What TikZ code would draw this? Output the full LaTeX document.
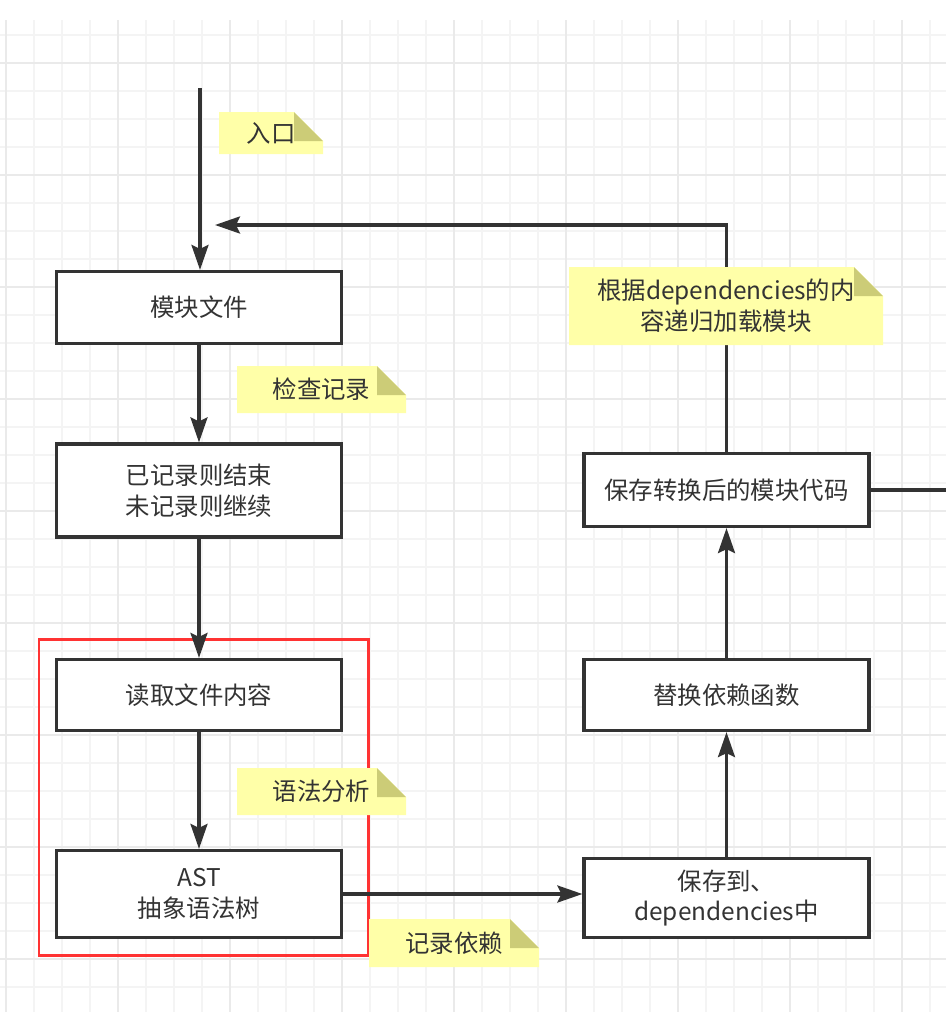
\documentclass[tikz,border=0pt]{standalone}
\usepackage{fontspec}
\setmainfont{Noto Sans CJK SC}
\usetikzlibrary{arrows.meta}

\definecolor{linegray}{HTML}{333333}
\definecolor{textgray}{HTML}{333333}
\definecolor{gridminor}{HTML}{F4F4F4}
\definecolor{gridmajor}{HTML}{EAEAEA}
\definecolor{notefill}{HTML}{FFFFA8}
\definecolor{foldfill}{HTML}{CCCC77}
\definecolor{framered}{HTML}{FF3333}

\tikzset{
	stepbox/.style={draw=linegray, line width=0.065cm, fill=white,
		minimum width=5.7cm, inner sep=0pt, text=textgray, align=center,
		font=\fontsize{13.9pt}{17.6pt}\selectfont},
	flow/.style={draw=linegray, line width=0.065cm,
		-{Stealth[length=0.5cm, width=0.34cm, inset=0.08cm]}},
	plainline/.style={draw=linegray, line width=0.065cm},
	notetext/.style={inner sep=0pt, text=textgray, align=center,
		font=\fontsize{13.9pt}{17.6pt}\selectfont},
}

% gul lapp med brettet hjorne: navn, x1, y1, x2, y2, tekst
\newcommand{\stickynote}[6]{%
	\fill[notefill] (#2,#3) -- (#4-29,#3) -- (#4,#3+29) -- (#4,#5) -- (#2,#5) -- cycle;
	\fill[foldfill] (#4-29,#3) -- (#4-29,#3+29) -- (#4,#3+29) -- cycle;
	\node[notetext] (#1) at ({(#2+#4)/2},{(#3+#5)/2}) {#6};
}

\begin{document}
\begin{tikzpicture}[x=0.02cm, y=-0.02cm]
	\useasboundingbox (0,0) rectangle (946,1012);
	\fill[white] (0,0) rectangle (946,1012);

	% Rutenett
	\foreach \x in {6,34,...,930}
		\draw[gridminor, line width=0.035cm] (\x,20) -- (\x,1012);
	\foreach \y in {35,63,...,987}
		\draw[gridminor, line width=0.035cm] (0,\y) -- (946,\y);
	\foreach \x in {6,118,...,902}
		\draw[gridmajor, line width=0.035cm] (\x,20) -- (\x,1012);
	\foreach \y in {63,175,...,959}
		\draw[gridmajor, line width=0.035cm] (0,\y) -- (946,\y);

	% Venstre kolonne
	\node[stepbox, minimum height=1.44cm] (modfile) at (199,307.5) {模块文件};
	\node[stepbox, minimum height=1.86cm] (checked) at (199,490.5) {已记录则结束\\未记录则继续};
	\node[stepbox, minimum height=1.42cm] (readfile) at (199,695) {读取文件内容};
	\node[stepbox, minimum height=1.74cm] (ast) at (199,894) {AST\\抽象语法树};

	% Hoyre kolonne
	\node[stepbox, minimum height=1.58cm] (savedeps) at (726.5,898) {保存到、\\dependencies中};
	\node[stepbox, minimum height=1.42cm] (replace) at (726.5,695) {替换依赖函数};
	\node[stepbox, minimum height=1.46cm] (savecode) at (726.5,490) {保存转换后的模块代码};

	% Rod ramme
	\draw[framered, line width=0.06cm] (39,639) rectangle (368,955);

	% Piler
	\coordinate (entry) at (200,88);
	\coordinate (looptip) at (215,225);
	\coordinate (exit) at (946,490);
	\draw[flow] (entry) -- (entry |- modfile.north);
	\draw[flow] (modfile.south) -- (checked.north);
	\draw[flow] (checked.south) -- (readfile.north);
	\draw[flow] (readfile.south) -- (ast.north);
	\draw[flow] (ast.east) -- (ast.east -| savedeps.west);
	\draw[flow] (savedeps.north) -- (replace.south);
	\draw[flow] (replace.north) -- (savecode.south);
	\draw[flow] (savecode.north) |- (looptip);
	\draw[plainline] (savecode.east) -- (exit);

	% Lapper
	\stickynote{entrynote}{219}{112}{323}{154}{入口}
	\stickynote{checknote}{237}{366}{406}{413}{检查记录}
	\stickynote{parsenote}{237}{768}{406}{815}{语法分析}
	\stickynote{depnote}{369}{919}{539}{967}{记录依赖}
	\stickynote{loopnote}{569}{267}{883}{345}{根据dependencies的内\\容递归加载模块}
\end{tikzpicture}
\end{document}
